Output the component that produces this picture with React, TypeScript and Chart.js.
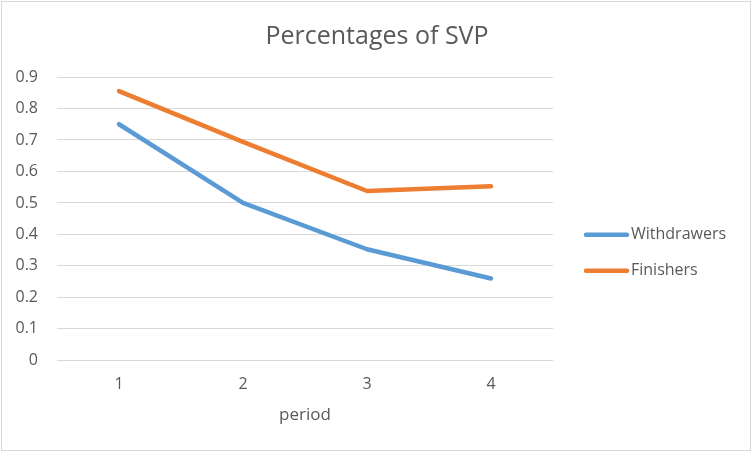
import React, { useEffect, useRef } from 'react';
import { Chart, registerables } from 'chart.js';

Chart.register(...registerables);

const periods = ['1', '2', '3', '4'];
const withdrawers = [0.75, 0.5, 0.353, 0.26];
const finishers = [0.855, 0.694, 0.538, 0.553];
const seriesNames = ['Withdrawers', 'Finishers'];
const seriesColors = ['#5B9BD5', '#ED7D31'];
const titleText = 'Percentages of SVP';
const xAxisTitle = 'period';
const yMin = 0;
const yMax = 0.9;
const yStep = 0.1;

const FONT = "'Open Sans', sans-serif";
const TEXT = '#595959';
const GRID = '#d9d9d9';

const centerTitle = {
  id: 'centerTitle',
  afterDraw(chart: any) {
    const ctx = chart.ctx;
    ctx.save();
    ctx.fillStyle = TEXT;
    ctx.font = `25px ${FONT}`;
    ctx.textAlign = 'center';
    ctx.textBaseline = 'middle';
    ctx.fillText(titleText, chart.width / 2, 37);
    ctx.restore();
  },
};

const sideLegend = {
  id: 'sideLegend',
  afterDraw(chart: any) {
    const ctx = chart.ctx;
    const area = chart.chartArea;
    const x0 = area.right + 33;
    const len = 41;
    const mid = (area.top + area.bottom) / 2 + 34;
    const gap = 36;
    const n = chart.data.datasets.length;
    chart.data.datasets.forEach((ds: any, i: number) => {
      const y = mid + (i - (n - 1) / 2) * gap;
      ctx.save();
      ctx.strokeStyle = ds.borderColor;
      ctx.lineWidth = 4.5;
      ctx.lineCap = 'round';
      ctx.beginPath();
      ctx.moveTo(x0, y);
      ctx.lineTo(x0 + len, y);
      ctx.stroke();
      ctx.fillStyle = TEXT;
      ctx.font = `16px ${FONT}`;
      ctx.textBaseline = 'middle';
      ctx.textAlign = 'left';
      ctx.fillText(ds.label, x0 + len + 4, y);
      ctx.restore();
    });
  },
};

export default function App() {
  const ref = useRef<HTMLCanvasElement | null>(null);

  useEffect(() => {
    if (!ref.current) return;
    const chart = new Chart(ref.current, {
      type: 'line',
      data: {
        labels: periods,
        datasets: [
          {
            label: seriesNames[0],
            data: withdrawers,
            borderColor: seriesColors[0],
            backgroundColor: seriesColors[0],
            borderWidth: 4.5,
            pointRadius: 0,
            tension: 0,
            borderCapStyle: 'round',
            borderJoinStyle: 'round',
          },
          {
            label: seriesNames[1],
            data: finishers,
            borderColor: seriesColors[1],
            backgroundColor: seriesColors[1],
            borderWidth: 4.5,
            pointRadius: 0,
            tension: 0,
            borderCapStyle: 'round',
            borderJoinStyle: 'round',
          },
        ],
      },
      options: {
        animation: false,
        responsive: false,
        maintainAspectRatio: false,
        layout: { padding: { left: 0, right: 201, top: 77, bottom: 24 } },
        plugins: {
          legend: { display: false },
          tooltip: { enabled: false },
          title: { display: false },
        },
        scales: {
          x: {
            offset: true,
            grid: { display: false, drawTicks: false },
            border: { display: false },
            ticks: { color: TEXT, font: { family: FONT, size: 16 }, padding: 14 },
            title: {
              display: true,
              text: xAxisTitle,
              color: TEXT,
              font: { family: FONT, size: 17 },
              padding: { top: -3, bottom: 4 },
            },
          },
          y: {
            min: yMin,
            max: yMax,
            afterFit: (scale: any) => {
              scale.width = 57;
            },
            grid: { color: GRID, lineWidth: 1, drawTicks: false },
            border: { display: false },
            ticks: {
              stepSize: yStep,
              color: TEXT,
              font: { family: FONT, size: 16 },
              padding: 19,
              callback: (v: any) => (Number(v) === 0 ? '0' : Number(v).toFixed(1)),
            },
          },
        },
      },
      plugins: [centerTitle, sideLegend],
    });
    return () => chart.destroy();
  }, []);

  return (
    <div style={{ position: 'fixed', left: 0, top: 0, width: 754, height: 453, background: '#fff' }}>
      <canvas ref={ref} width={754} height={453} style={{ display: 'block' }} />
      <div
        style={{
          position: 'absolute',
          left: 1,
          top: 1,
          width: 750,
          height: 450,
          boxSizing: 'border-box',
          border: `1px solid ${GRID}`,
          pointerEvents: 'none',
        }}
      />
    </div>
  );
}
